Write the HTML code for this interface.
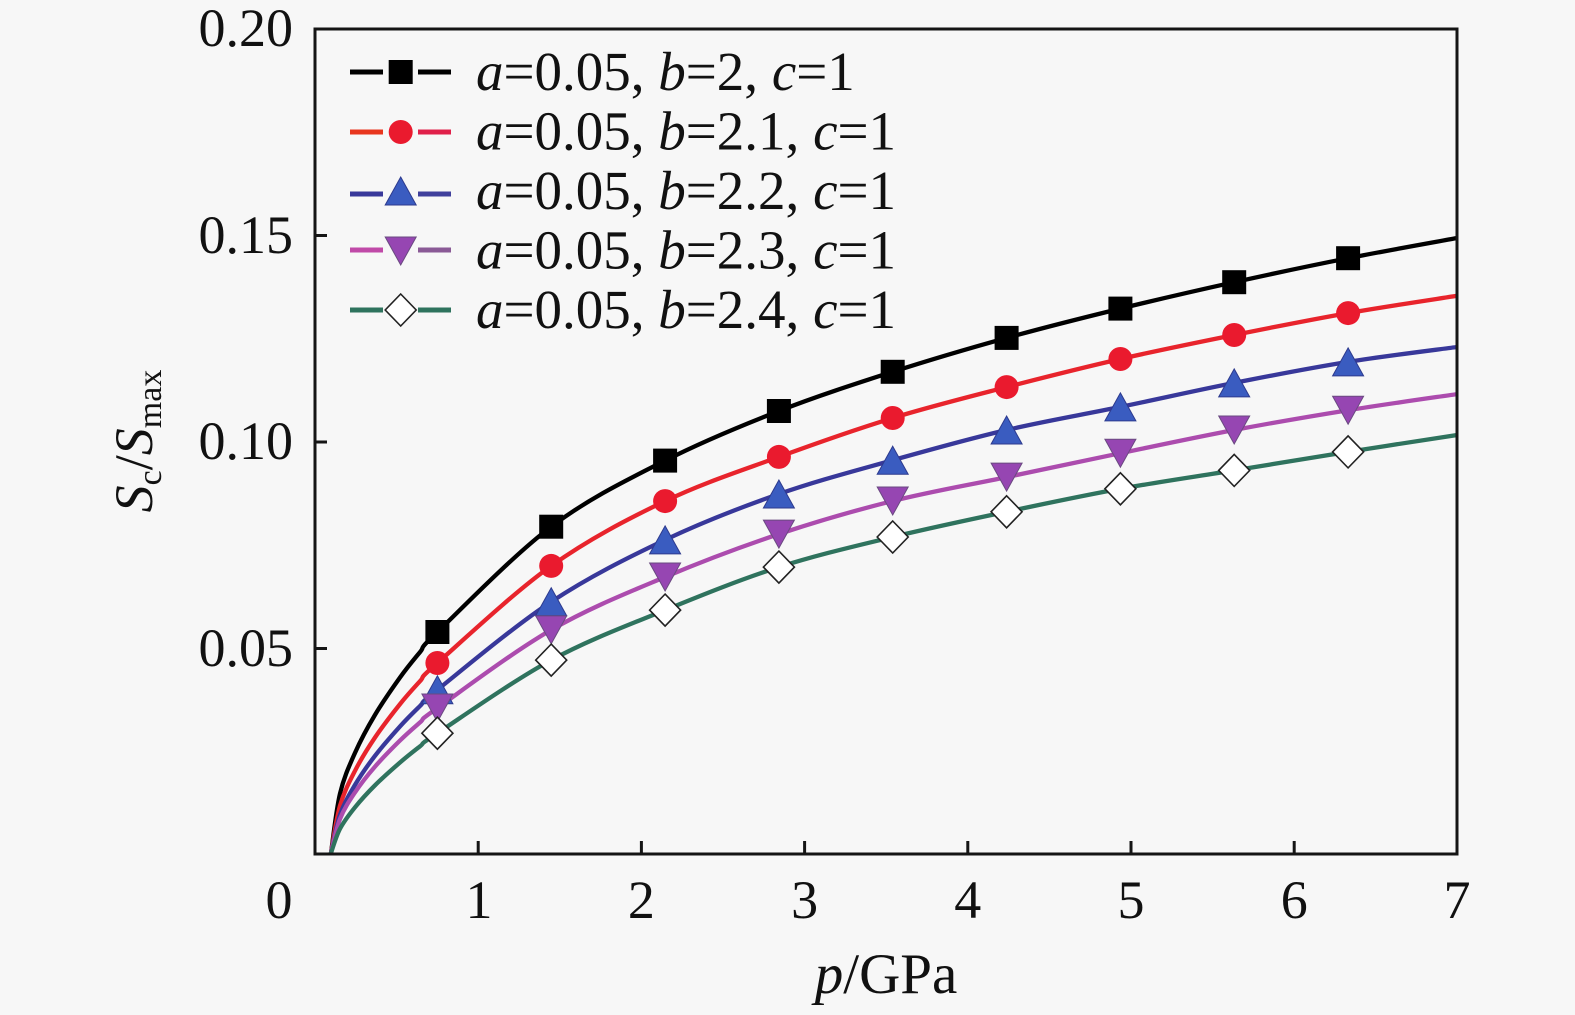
<!DOCTYPE html>
<html>
<head>
<meta charset="utf-8">
<style>
html,body{margin:0;padding:0;background:#f7f7f7;}
svg{display:block;}
text{font-family:"Liberation Serif","Times New Roman",serif;fill:#111;}
</style>
</head>
<body>
<svg id="chart" width="1575" height="1015" viewBox="0 0 1575 1015" xmlns="http://www.w3.org/2000/svg">
<defs>
  <clipPath id="plotclip"><rect x="316" y="30" width="1140" height="823"/></clipPath>
  <g id="sq"><rect x="-12" y="-12" width="24" height="24" fill="#000"/></g>
  <g id="ci"><circle cx="0" cy="0" r="12" fill="#ea1a2e"/></g>
  <g id="tu"><polygon points="0,-14 15.5,14 -15.5,14" fill="#3a5cc0" stroke="#2d3a8e" stroke-width="1"/></g>
  <g id="td"><polygon points="-15.5,-14 15.5,-14 0,14" fill="#9646b2" stroke="#6a4a80" stroke-width="1"/></g>
  <g id="dm"><polygon points="0,-16 15.5,0 0,16 -15.5,0" fill="#ffffff" stroke="#222" stroke-width="1.6"/></g>
</defs>

<rect x="0" y="0" width="1575" height="1015" fill="#f7f7f7"/>

<!-- series -->
<g clip-path="url(#plotclip)" fill="none" stroke-width="4.3" stroke-linejoin="round" stroke-linecap="round">
  <polyline class="crv" stroke="#000000" points="331,853 340,793.6 355,752.9 375,714.9 400,677.5 420,652.1 437.4,632 551.2,526.7 665.1,460.6 778.9,411 892.7,371.8 1006.6,337.9 1120.4,308.6 1234.2,282.2 1348.1,258.2 1457,238"/>
  <polyline class="crv" stroke="#e8242c" points="331,853 340,805.7 355,770.8 375,737.5 400,704.1 420,681.2 437.4,663 551.2,565.9 665.1,501.1 778.9,456.9 892.7,418 1006.6,387.1 1120.4,359 1234.2,335 1348.1,313.1 1457,295.8"/>
  <polyline class="crv" stroke="#38389a" points="331,853 340,814.7 355,784.9 375,755.8 400,726.4 420,706 437.4,689.8 551.2,601.8 665.1,539.9 778.9,494 892.7,460.2 1006.6,430 1120.4,406.9 1234.2,382.9 1348.1,361.9 1457,347"/>
  <polyline class="crv" stroke="#ac4cae" points="331,853 340,818.9 355,792.4 375,766.6 400,740.5 420,722.4 437.4,708 551.2,629.9 665.1,577 778.9,534.1 892.7,501 1006.6,477.1 1120.4,453.2 1234.2,430 1348.1,410.2 1457,394.1"/>
  <polyline class="crv" stroke="#2f735e" points="331,853 340,828.8 355,807.3 375,785.3 400,762.5 420,746.3 437.4,733.2 551.2,660.1 665.1,610.1 778.9,567.1 892.7,537 1006.6,511.8 1120.4,488.8 1234.2,470.4 1348.1,451.9 1457,435"/>
</g>

<!-- markers -->
<g clip-path="url(#plotclip)">
  <use href="#sq" x="437.4" y="632"/><use href="#sq" x="551.2" y="526.7"/><use href="#sq" x="665.1" y="460.6"/><use href="#sq" x="778.9" y="411"/><use href="#sq" x="892.7" y="371.8"/><use href="#sq" x="1006.6" y="337.9"/><use href="#sq" x="1120.4" y="308.6"/><use href="#sq" x="1234.2" y="282.2"/><use href="#sq" x="1348.1" y="258.2"/>
  <use href="#ci" x="437.4" y="663"/><use href="#ci" x="551.2" y="565.9"/><use href="#ci" x="665.1" y="501.1"/><use href="#ci" x="778.9" y="456.9"/><use href="#ci" x="892.7" y="418"/><use href="#ci" x="1006.6" y="387.1"/><use href="#ci" x="1120.4" y="359"/><use href="#ci" x="1234.2" y="335"/><use href="#ci" x="1348.1" y="313.1"/>
  <use href="#tu" x="437.4" y="689.8"/><use href="#tu" x="551.2" y="601.8"/><use href="#tu" x="665.1" y="539.9"/><use href="#tu" x="778.9" y="494"/><use href="#tu" x="892.7" y="460.2"/><use href="#tu" x="1006.6" y="430"/><use href="#tu" x="1120.4" y="406.9"/><use href="#tu" x="1234.2" y="382.9"/><use href="#tu" x="1348.1" y="361.9"/>
  <use href="#td" x="437.4" y="708"/><use href="#td" x="551.2" y="629.9"/><use href="#td" x="665.1" y="577"/><use href="#td" x="778.9" y="534.1"/><use href="#td" x="892.7" y="501"/><use href="#td" x="1006.6" y="477.1"/><use href="#td" x="1120.4" y="453.2"/><use href="#td" x="1234.2" y="430"/><use href="#td" x="1348.1" y="410.2"/>
  <use href="#dm" x="437.4" y="733.2"/><use href="#dm" x="551.2" y="660.1"/><use href="#dm" x="665.1" y="610.1"/><use href="#dm" x="778.9" y="567.1"/><use href="#dm" x="892.7" y="537"/><use href="#dm" x="1006.6" y="511.8"/><use href="#dm" x="1120.4" y="488.8"/><use href="#dm" x="1234.2" y="470.4"/><use href="#dm" x="1348.1" y="451.9"/>
</g>

<!-- frame -->
<rect x="315" y="29" width="1142" height="825" fill="none" stroke="#151515" stroke-width="3"/>

<!-- ticks -->
<g stroke="#151515" stroke-width="3">
  <line x1="478.2" y1="854" x2="478.2" y2="841"/>
  <line x1="641.4" y1="854" x2="641.4" y2="841"/>
  <line x1="804.6" y1="854" x2="804.6" y2="841"/>
  <line x1="967.8" y1="854" x2="967.8" y2="841"/>
  <line x1="1131" y1="854" x2="1131" y2="841"/>
  <line x1="1294.2" y1="854" x2="1294.2" y2="841"/>
  <line x1="315" y1="235.5" x2="327" y2="235.5"/>
  <line x1="315" y1="442" x2="327" y2="442"/>
  <line x1="315" y1="648.5" x2="327" y2="648.5"/>
</g>

<!-- y tick labels -->
<g font-size="54" text-anchor="end">
  <text x="293" y="46">0.20</text>
  <text x="293" y="253">0.15</text>
  <text x="293" y="459">0.10</text>
  <text x="293" y="666">0.05</text>
</g>

<!-- x tick labels -->
<g font-size="54" text-anchor="middle">
  <text x="279" y="918">0</text>
  <text x="479" y="918">1</text>
  <text x="641.4" y="918">2</text>
  <text x="804.6" y="918">3</text>
  <text x="967.8" y="918">4</text>
  <text x="1131" y="918">5</text>
  <text x="1294.2" y="918">6</text>
  <text x="1457" y="918">7</text>
</g>

<!-- axis titles -->
<text x="886" y="993" font-size="57" text-anchor="middle"><tspan font-style="italic">p</tspan>/GPa</text>
<text transform="translate(152,441) rotate(-90)" font-size="54" text-anchor="middle"><tspan font-style="italic">S</tspan><tspan font-size="34" dy="9">c</tspan><tspan dy="-9">/</tspan><tspan font-style="italic">S</tspan><tspan font-size="34" dy="9">max</tspan></text>

<!-- legend -->
<g stroke-width="5">
  <line x1="350" y1="72" x2="383" y2="72" stroke="#000"/><line x1="418" y1="72" x2="451" y2="72" stroke="#000"/>
  <line x1="350" y1="132" x2="383" y2="132" stroke="#e8361e"/><line x1="418" y1="132" x2="451" y2="132" stroke="#e0204a"/>
  <line x1="350" y1="194" x2="383" y2="194" stroke="#38389a"/><line x1="418" y1="194" x2="451" y2="194" stroke="#40409c"/>
  <line x1="350" y1="250" x2="383" y2="250" stroke="#c04aa8"/><line x1="418" y1="250" x2="451" y2="250" stroke="#8a5a96"/>
  <line x1="350" y1="310" x2="383" y2="310" stroke="#2f735e"/><line x1="418" y1="310" x2="451" y2="310" stroke="#2f735e"/>
</g>
<use href="#sq" x="400.7" y="72"/>
<use href="#ci" x="400.7" y="132"/>
<use href="#tu" x="400.7" y="191"/>
<use href="#td" x="400.7" y="251"/>
<use href="#dm" x="400.7" y="310"/>
<g font-size="55">
  <text x="476" y="90"><tspan font-style="italic">a</tspan>=0.05, <tspan font-style="italic">b</tspan>=2, <tspan font-style="italic">c</tspan>=1</text>
  <text x="476" y="149.5"><tspan font-style="italic">a</tspan>=0.05, <tspan font-style="italic">b</tspan>=2.1, <tspan font-style="italic">c</tspan>=1</text>
  <text x="476" y="209"><tspan font-style="italic">a</tspan>=0.05, <tspan font-style="italic">b</tspan>=2.2, <tspan font-style="italic">c</tspan>=1</text>
  <text x="476" y="268.5"><tspan font-style="italic">a</tspan>=0.05, <tspan font-style="italic">b</tspan>=2.3, <tspan font-style="italic">c</tspan>=1</text>
  <text x="476" y="328"><tspan font-style="italic">a</tspan>=0.05, <tspan font-style="italic">b</tspan>=2.4, <tspan font-style="italic">c</tspan>=1</text>
</g>
</svg>
<script>
(function(){
  var NS="http://www.w3.org/2000/svg";
  var pls=document.querySelectorAll("polyline.crv");
  for(var k=0;k<pls.length;k++){
    var pl=pls[k];
    var raw=pl.getAttribute("points").trim().split(/\s+/);
    var pts=raw.map(function(s){var a=s.split(",");return [parseFloat(a[0]),parseFloat(a[1])];});
    var d="M"+pts[0][0]+","+pts[0][1];
    for(var i=0;i<pts.length-1;i++){
      var p0=pts[i-1]||pts[i],p1=pts[i],p2=pts[i+1],p3=pts[i+2]||p2;
      var c1x=p1[0]+(p2[0]-p0[0])/6,c1y=p1[1]+(p2[1]-p0[1])/6;
      var c2x=p2[0]-(p3[0]-p1[0])/6,c2y=p2[1]-(p3[1]-p1[1])/6;
      d+=" C"+c1x.toFixed(2)+","+c1y.toFixed(2)+" "+c2x.toFixed(2)+","+c2y.toFixed(2)+" "+p2[0]+","+p2[1];
    }
    var p=document.createElementNS(NS,"path");
    p.setAttribute("d",d);
    p.setAttribute("stroke",pl.getAttribute("stroke"));
    pl.parentNode.replaceChild(p,pl);
  }
})();
</script>
</body>
</html>
